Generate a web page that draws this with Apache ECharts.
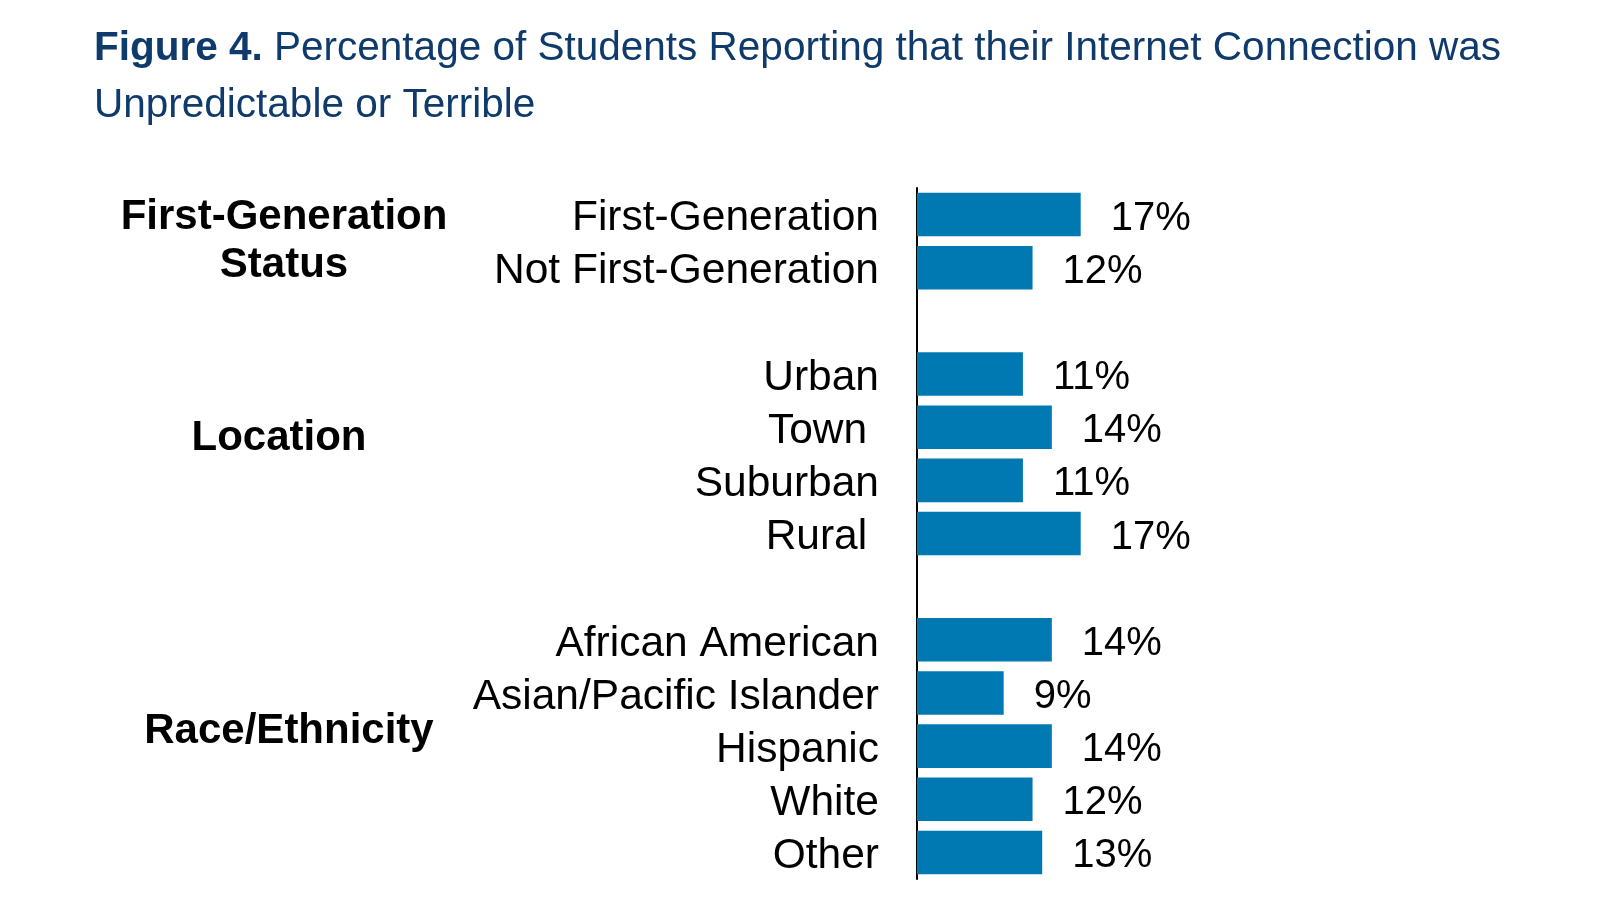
<!DOCTYPE html>
<html lang="en">
<head>
<meta charset="UTF-8" />
<title>Figure 4</title>
<script src="https://cdn.jsdelivr.net/npm/echarts@6/dist/echarts.min.js"></script>
<style>
  html, body { margin: 0; padding: 0; background: #fff; }
  #main { width: 1600px; height: 900px; }
</style>
</head>
<body>
<div id="main"></div>
<script>
// rows top to bottom, blank rows separate the groups
var categories = ['First-Generation', 'Not First-Generation', ' ',
  'Urban', 'Town ', 'Suburban', 'Rural ', '  ',
  'African American', 'Asian/Pacific Islander', 'Hispanic', 'White', 'Other'];
var values = [17, 12, null, 11, 14, 11, 17, null, 14, 9, 14, 12, 13];
var groupNames = ['First-Generation\nStatus', 'Location', 'Race/Ethnicity'];

var FONT = '"Liberation Sans", Arial, sans-serif';
var navy = '#0f3a6c';

var myChart = echarts.init(document.getElementById('main'));

myChart.setOption({
  backgroundColor: '#fff',
  animation: false,
  title: {
    left: 94,
    top: 20,
    padding: 0,
    text: '{b|Figure 4. }{n|Percentage of Students Reporting that their Internet Connection was}\n{n|Unpredictable or Terrible}',
    textStyle: {
      rich: {
        b: { fontFamily: FONT, fontSize: 40.5, fontWeight: 'bold', color: navy, lineHeight: 57 },
        n: { fontFamily: FONT, fontSize: 40.5, fontWeight: 'normal', color: navy, lineHeight: 57 }
      }
    }
  },
  grid: { left: 917, top: 188, height: 691, width: 192.6 },
  xAxis: {
    type: 'value',
    min: 0,
    max: 20,
    show: false
  },
  yAxis: {
    type: 'category',
    inverse: true,
    data: categories,
    axisLine: { show: true, lineStyle: { color: '#000', width: 2 } },
    axisTick: { show: false },
    axisLabel: {
      interval: 0,
      margin: 38,
      formatter: '{c|{value}}',
      rich: {
        c: { fontFamily: FONT, fontSize: 42.5, color: '#000', padding: [8, 0, 0, 0] }
      }
    }
  },
  series: [{
    type: 'bar',
    data: values,
    barCategoryGap: '18%',
    itemStyle: { color: '#0078b1' },
    label: {
      show: true,
      position: 'right',
      distance: 30,
      offset: [0, 4],
      formatter: '{c}%',
      fontFamily: FONT,
      fontSize: 40,
      color: '#000'
    }
  }],
  graphic: [
    { type: 'text', x: 284, y: 241, style: { text: groupNames[0], align: 'center', verticalAlign: 'middle', font: 'bold 42px ' + FONT, lineHeight: 48, fill: '#000' } },
    { type: 'text', x: 279, y: 438, style: { text: groupNames[1], align: 'center', verticalAlign: 'middle', font: 'bold 42px ' + FONT, fill: '#000' } },
    { type: 'text', x: 289, y: 731, style: { text: groupNames[2], align: 'center', verticalAlign: 'middle', font: 'bold 42px ' + FONT, fill: '#000' } }
  ]
});
</script>
</body>
</html>
